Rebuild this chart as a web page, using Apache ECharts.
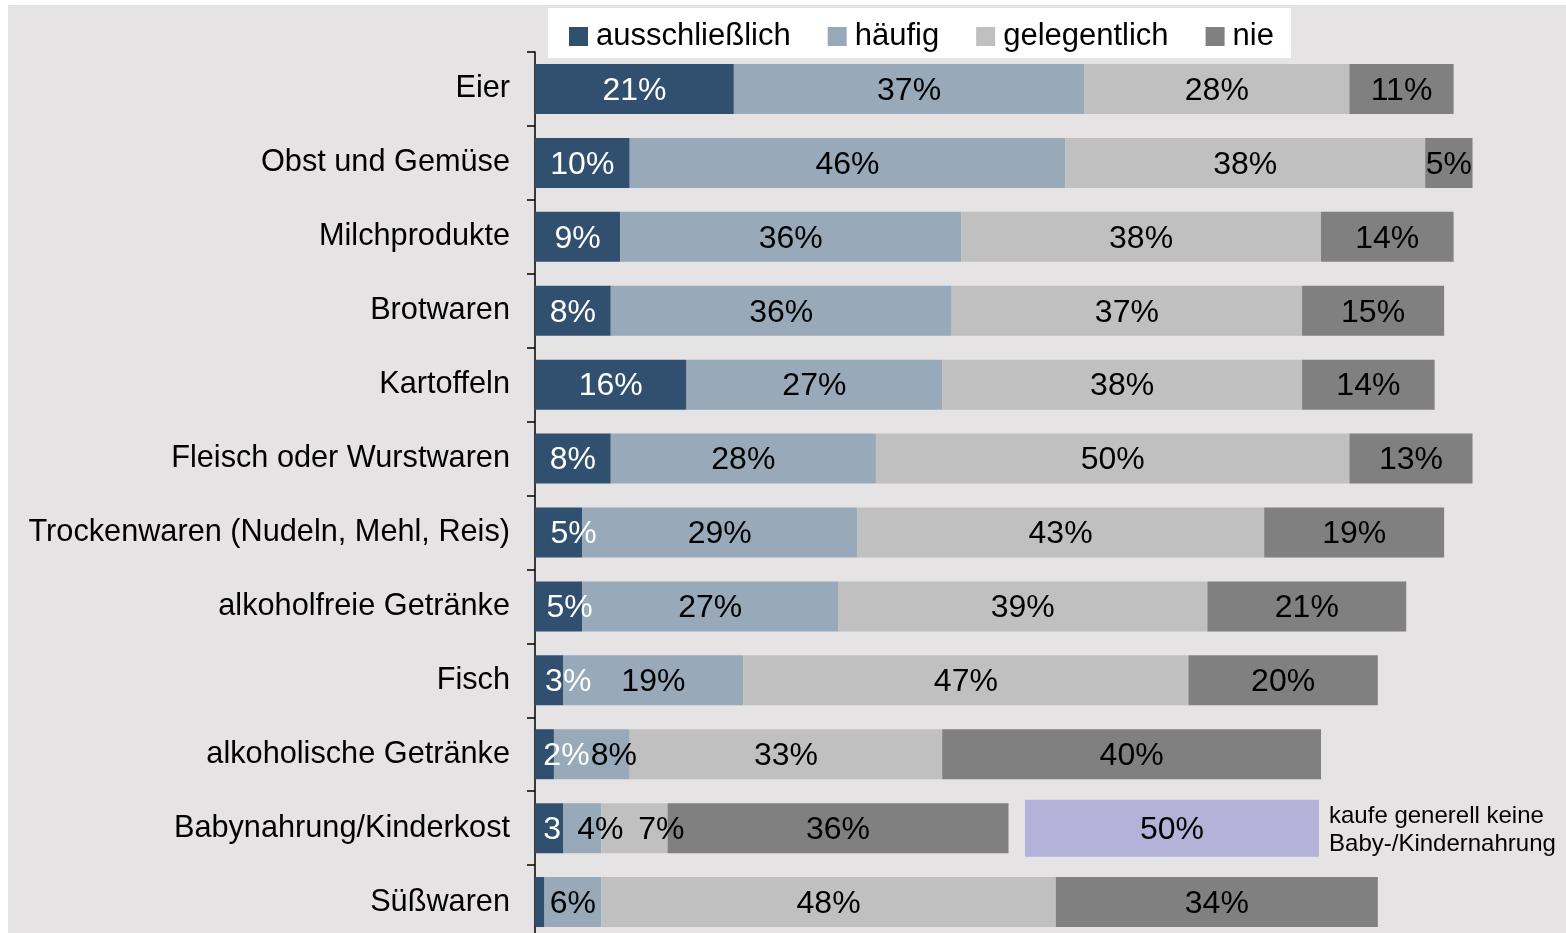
<!DOCTYPE html>
<html>
<head>
<meta charset="utf-8">
<script src="https://cdn.jsdelivr.net/npm/echarts@6/dist/echarts.min.js"></script>
<style>
  html, body { margin: 0; padding: 0; background: #fff; }
  #wrap { position: absolute; left: 8px; top: 5px; width: 1558px; height: 928px; background: #e5e3e4; overflow: hidden; }
  #chart { width: 1558px; height: 928px; }
</style>
</head>
<body>
<div id="wrap"><div id="chart"></div></div>
<script>
// Kategorien (von oben nach unten)
const categories = [
  'Eier', 'Obst und Gemüse', 'Milchprodukte', 'Brotwaren', 'Kartoffeln',
  'Fleisch oder Wurstwaren', 'Trockenwaren (Nudeln, Mehl, Reis)', 'alkoholfreie Getränke',
  'Fisch', 'alkoholische Getränke', 'Babynahrung/Kinderkost', 'Süßwaren'
];
const seriesNames = ['ausschließlich', 'häufig', 'gelegentlich', 'nie'];
const ausschliesslich = [21, 10, 9, 8, 16, 8, 5, 5, 3, 2, 3, 1];
const haeufig = [37, 46, 36, 36, 27, 28, 29, 27, 19, 8, 4, 6];
const gelegentlich = [28, 38, 38, 37, 38, 50, 43, 39, 47, 33, 7, 48];
const nie = [11, 5, 14, 15, 14, 13, 19, 21, 20, 40, 36, 34];
// Baby-/Kinderkost: "kaufe generell keine"
const babyKeine = 50;
const babyNote = 'kaufe generell keine\nBaby-/Kindernahrung';

const colors = ['#31506f', '#98a9b9', '#c0c0c0', '#808080'];
const labelColors = ['#fff', '#000', '#000', '#000'];
const font = '"Liberation Sans", Arial, sans-serif';

// Beschriftungen, die im Original verschoben / gekürzt sind
const labelText = { 'Babynahrung/Kinderkost': { 0: '3' }, 'Süßwaren': { 0: '' } };
const labelShift = {
  'Trockenwaren (Nudeln, Mehl, Reis)': { 0: 15 },
  'alkoholfreie Getränke': { 0: 11 },
  'Fisch': { 0: 19 },
  'alkoholische Getränke': { 0: 22, 1: 22 },
  'Babynahrung/Kinderkost': { 0: 3, 1: 18, 2: 27 }
};

const babyIdx = categories.indexOf('Babynahrung/Kinderkost');
const chart = echarts.init(document.getElementById('chart'));

function buildSeries (values, s) {
  return {
    name: seriesNames[s],
    type: 'bar',
    stack: 'total',
    barWidth: 50,
    itemStyle: { color: colors[s] },
    label: {
      show: true,
      position: 'inside',
      color: labelColors[s],
      fontSize: 32,
      fontFamily: font
    },
    data: values.map((v, i) => {
      const cat = categories[i];
      const txt = labelText[cat] && labelText[cat][s] !== undefined ? labelText[cat][s] : v + '%';
      const dx = labelShift[cat] && labelShift[cat][s] ? labelShift[cat][s] : 0;
      return { value: v, label: { formatter: txt, offset: [dx, 2] } };
    })
  };
}

const onlyBaby = v => categories.map((c, i) => i === babyIdx ? v : '-');
const babyTotal = ausschliesslich[babyIdx] + haeufig[babyIdx] + gelegentlich[babyIdx] + nie[babyIdx];

const series = [ausschliesslich, haeufig, gelegentlich, nie].map(buildSeries);
// separater Kasten für "kaufe generell keine" (etwas höher als die Balken)
series.push({
  name: 'spacer', type: 'bar', stack: 'box', barWidth: 57,
  xAxisIndex: 1, yAxisIndex: 1,
  itemStyle: { color: 'transparent' }, silent: true,
  data: onlyBaby(babyTotal + 1.74)
});
series.push({
  name: 'keine', type: 'bar', stack: 'box', barWidth: 57,
  xAxisIndex: 1, yAxisIndex: 1,
  itemStyle: { color: '#b4b2d8' },
  label: { show: true, position: 'inside', offset: [0, 2], formatter: babyKeine + '%', color: '#000', fontSize: 32, fontFamily: font },
  data: onlyBaby(31.05)
});
series.push({
  name: 'note', type: 'bar', stack: 'box', barWidth: 57,
  xAxisIndex: 1, yAxisIndex: 1,
  itemStyle: { color: 'transparent' }, silent: true,
  label: {
    show: true, position: 'insideLeft', offset: [5, 2], formatter: babyNote,
    color: '#000', fontSize: 24, lineHeight: 28, fontFamily: font
  },
  data: onlyBaby(20)
});

chart.setOption({
  animation: false,
  backgroundColor: '#e5e3e4',
  textStyle: { fontFamily: font },
  legend: {
    data: seriesNames,
    left: 540,
    top: 3,
    backgroundColor: '#fff',
    padding: [13, 17, 6, 21],
    itemWidth: 19,
    itemHeight: 19,
    itemGap: 37,
    icon: 'rect',
    textStyle: { fontSize: 31, color: '#000', fontFamily: font, padding: [0, 0, 0, 3] }
  },
  grid: { left: 527, top: 47, right: 84, height: 887, containLabel: false, outerBoundsMode: 'none' },
  xAxis: [
    { type: 'value', min: 0, max: 100, show: false },
    { type: 'value', min: 0, max: 100, show: false }
  ],
  yAxis: [{
    type: 'category',
    data: categories,
    inverse: true,
    axisLine: { lineStyle: { color: '#000', width: 1.5 } },
    axisTick: { show: true, length: 8, lineStyle: { color: '#000', width: 1.5 } },
    axisLabel: { fontSize: 30.7, color: '#000', margin: 25, fontFamily: font, padding: [0, 0, 6, 0] },
    splitLine: { show: false }
  }, {
    type: 'category',
    data: categories,
    inverse: true,
    show: false
  }],
  series: series
});
</script>
</body>
</html>
